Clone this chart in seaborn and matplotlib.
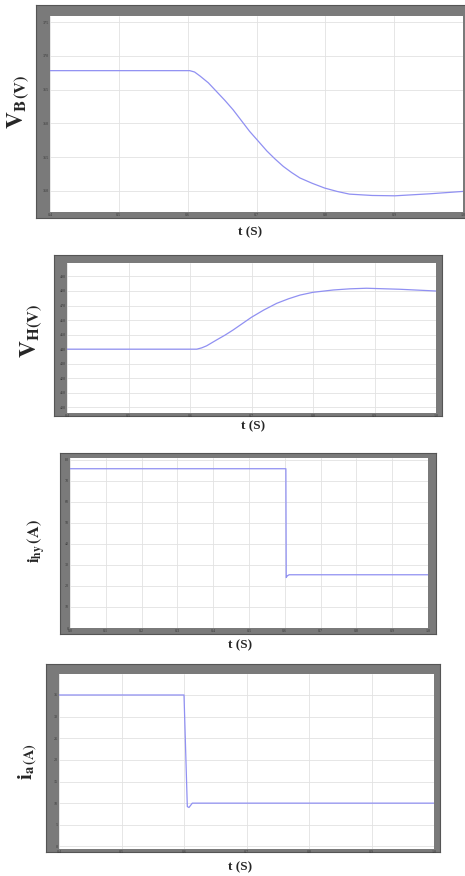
import numpy as np
import pandas as pd
import matplotlib
matplotlib.use("Agg")
import matplotlib.pyplot as plt
import seaborn as sns

sns.set_theme(style="white")
plt.rcParams['font.family'] = ['Liberation Serif', 'DejaVu Serif']
plt.rcParams['mathtext.fontset'] = 'stix'

# ---------- DATA ----------
# (a) battery voltage
t_vb = [0.40, 0.603, 0.610, 0.618, 0.630, 0.642, 0.654, 0.666, 0.678, 0.690, 0.703, 0.715,
        0.727, 0.739, 0.751, 0.763, 0.781, 0.799, 0.817, 0.835, 0.868, 0.901, 0.952, 1.00]
v_b = [367.8, 367.8, 367.6, 367.0, 366.0, 364.7, 363.4, 362.0, 360.4, 358.8, 357.3, 355.9,
       354.7, 353.6, 352.7, 351.9, 351.1, 350.4, 349.9, 349.5, 349.3, 349.25, 349.55, 349.9]
vb_xticks = [0.4, 0.5, 0.6, 0.7, 0.8, 0.9, 1.0]
vb_yticks = [350, 355, 360, 365, 370, 375]

# (b) voltage V_H
t_vh = [0.40, 0.611, 0.619, 0.627, 0.643, 0.657, 0.670, 0.685, 0.700, 0.720, 0.741, 0.760,
        0.779, 0.800, 0.833, 0.860, 0.887, 0.941, 1.00]
v_h = [439.9, 439.9, 440.8, 442.2, 446.2, 449.6, 453.1, 457.5, 461.9, 466.9, 471.5, 474.6,
       477.2, 479.1, 480.7, 481.5, 481.9, 481.2, 480.0]
vh_xticks = [0.4, 0.5, 0.6, 0.7, 0.8, 0.9, 1.0]
vh_yticks = [400, 410, 420, 430, 440, 450, 460, 470, 480, 490]

# (c) hybrid current
t_ihy = [0.0, 0.603, 0.604, 0.607, 0.612, 1.0]
i_hy = [75.7, 75.7, 24.0, 24.8, 25.3, 25.3]
ihy_xticks = [0.0, 0.1, 0.2, 0.3, 0.4, 0.5, 0.6, 0.7, 0.8, 0.9, 1.0]
ihy_yticks = [0, 10, 20, 30, 40, 50, 60, 70, 80]

# (d) current i_a
t_ia = [0.40, 0.600, 0.6053, 0.608, 0.6133, 1.00]
i_a = [35.0, 35.0, 9.2, 9.0, 10.0, 10.0]
ia_xticks = [0.4, 0.5, 0.6, 0.7, 0.8, 0.9, 1.0]
ia_yticks = [0, 5, 10, 15, 20, 25, 30, 35]

W, H = 465, 876
LINE = '#9090f2'
FRAME = '#7a7a7a'


def px_rect(l, t, r, b):
    return [l / W, 1 - b / H, (r - l) / W, (b - t) / H]


def panel(fig, frame, inner, x, y, xticks, yticks, xlim, ylim):
    fa = fig.add_axes(px_rect(*frame))
    fa.set_facecolor(FRAME)
    fa.set_xticks([])
    fa.set_yticks([])
    for s in fa.spines.values():
        s.set_color('#555555')
        s.set_linewidth(0.8)

    ax = fig.add_axes(px_rect(*inner))
    ax.set_facecolor('white')
    df = pd.DataFrame({'t': x, 'v': y})
    sns.lineplot(data=df, x='t', y='v', ax=ax, color=LINE, lw=0.9,
                 estimator=None, sort=False)
    ax.set_xlim(*xlim)
    ax.set_ylim(*ylim)
    ax.set_xticks(xticks)
    ax.set_yticks(yticks)
    ax.set_xlabel('')
    ax.set_ylabel('')
    ax.grid(True, color='#e2e2e2', lw=0.6)
    ax.tick_params(direction='in', length=2, width=0.5, colors='#555555',
                   labelsize=3, pad=1, labelcolor='#3a3a3a')
    for s in ax.spines.values():
        s.set_visible(False)
    return ax


fig = plt.figure(figsize=(W / 100, H / 100), dpi=100)

panel(fig, (36, 5, 467, 218), (50, 16, 463, 212), t_vb, v_b,
      vb_xticks, vb_yticks, (0.4, 1.0), (346.85, 375.9))
panel(fig, (54, 255, 442, 416), (67, 263, 436, 413), t_vh, v_h,
      vh_xticks, vh_yticks, (0.4, 1.0), (395.9, 499.3))
panel(fig, (60, 453, 436, 634), (70, 458, 428, 628), t_ihy, i_hy,
      ihy_xticks, ihy_yticks, (0.0, 1.0), (0, 80.8))
panel(fig, (46, 664, 440, 852), (59, 674, 434, 849), t_ia, i_a,
      ia_xticks, ia_yticks, (0.4, 1.0), (-0.6, 39.85))

# axis titles
def ftext(x, y, s, **kw):
    fig.text(x / W, 1 - y / H, s, ha='center', va='center', **kw)

ftext(19, 102, r'$\mathbf{V}_{\mathbf{B\,(V)}}$', fontsize=17, rotation=90)
ftext(32, 331, r'$\mathbf{V}_{\mathbf{H(V)}}$', fontsize=17, rotation=90)
ftext(37, 541, r'$\mathbf{i}_{\mathbf{hy}}\,\mathbf{(A)}$', fontsize=12, rotation=90)
ftext(28, 762, r'$\mathbf{i}_{\mathbf{a}\,\mathbf{(A)}}$', fontsize=15, rotation=90)

for xx, yy in [(250, 232), (253, 426), (240, 645), (240, 867)]:
    ftext(xx, yy, 't (S)', fontsize=9.5, fontweight='bold')

fig.savefig('out.png', dpi=100)
